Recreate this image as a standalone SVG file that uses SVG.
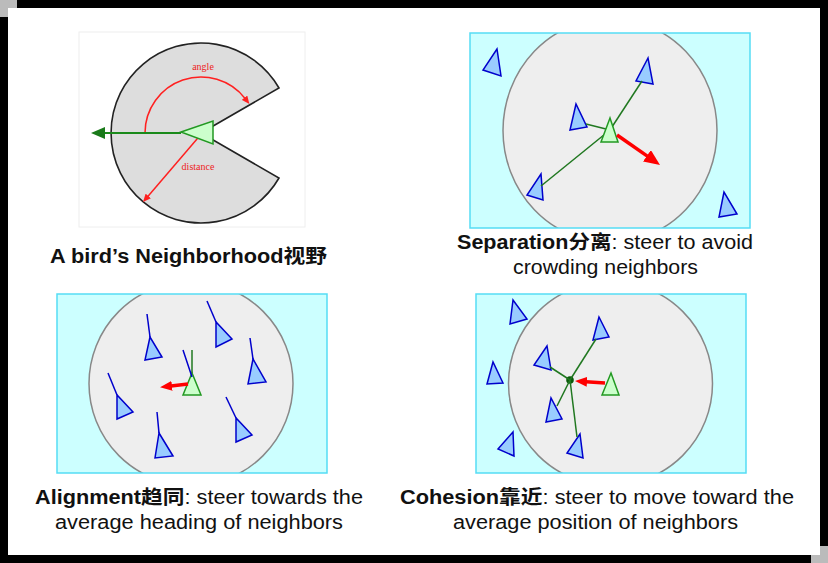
<svg xmlns="http://www.w3.org/2000/svg" width="828" height="563" viewBox="0 0 828 563">
<style>
.cap{font-family:"Liberation Sans","Noto Sans CJK SC",sans-serif;font-size:19.5px;fill:#111}
.b{font-weight:bold}
.lbl{font-family:"Liberation Serif",serif;font-size:10px;fill:#e22}
.box{fill:#ccffff}
.boxs{fill:none;stroke:#55ddf5;stroke-width:1.5}
.zone{fill:#eeeeee;stroke:#888;stroke-width:1.5}
.bb{fill:#99ccff;stroke:#0000cc;stroke-width:1.5;stroke-linejoin:miter}
.gb{fill:#ccffcc;stroke:#229922;stroke-width:1.5}
.gl{stroke:#207820;stroke-width:1.5;fill:none}
.hl{stroke:#0000cc;stroke-width:1.5;fill:none}
.ra{stroke:#ff0000;stroke-width:3.5;fill:none}
</style>
<defs>
<marker id="mRedS" markerUnits="userSpaceOnUse" markerWidth="8" markerHeight="7" refX="1" refY="3.5" orient="auto"><path d="M0,0 L8,3.5 L0,7 z" fill="#ff2020"/></marker>
<marker id="mGreen" markerUnits="userSpaceOnUse" markerWidth="14" markerHeight="12" refX="1" refY="6" orient="auto"><path d="M0,0 L14,6 L0,12 z" fill="#1a7a1a"/></marker>
<marker id="mRedB" markerUnits="userSpaceOnUse" markerWidth="16" markerHeight="14" refX="1" refY="7" orient="auto"><path d="M0,0 L16,7 L0,14 z" fill="#ff0000"/></marker>
<marker id="mRedM" markerUnits="userSpaceOnUse" markerWidth="12" markerHeight="10" refX="1" refY="5" orient="auto"><path d="M0,0 L12,5 L0,10 z" fill="#ff0000"/></marker>
<clipPath id="c2"><rect x="470" y="33" width="280" height="195"/></clipPath>
<clipPath id="c3"><rect x="57" y="294" width="270" height="179"/></clipPath>
<clipPath id="c4"><rect x="476" y="294" width="270" height="179"/></clipPath>
</defs>

<!-- frame -->
<rect x="0" y="0" width="828" height="563" fill="#000"/>
<rect x="0" y="0" width="17" height="17" fill="#bbbbbb"/>
<rect x="811" y="546" width="17" height="17" fill="#bbbbbb"/>
<rect x="8" y="8" width="812" height="547" fill="#fff"/>

<!-- Panel 1: neighborhood -->
<g id="neighborhood">
<rect x="79" y="32" width="226" height="195" fill="#fff" stroke="#eeeeee" stroke-width="1"/>
<path d="M201,133 L279,88 A90,90 0 1 0 279,178 Z" fill="#dddddd" stroke="#222" stroke-width="1.6" stroke-linejoin="miter"/>
<path d="M145,133 A56,56 0 0 1 245.1,98.5" fill="none" stroke="#ff2020" stroke-width="1.5" marker-end="url(#mRedS)"/>
<line x1="203" y1="132" x2="147.6" y2="196.7" stroke="#ff2020" stroke-width="1.5" marker-end="url(#mRedS)"/>
<line x1="181" y1="133" x2="104" y2="133" stroke="#1a8a1a" stroke-width="2" marker-end="url(#mGreen)"/>
<polygon points="181,132 213,121 213,144" class="gb"/>
<text x="203" y="70" class="lbl" text-anchor="middle">angle</text>
<text x="198" y="170" class="lbl" text-anchor="middle">distance</text>
</g>

<!-- Panel 2: separation -->
<g id="separation">
<rect x="470" y="33" width="280" height="195" class="box"/>
<ellipse cx="610" cy="130.5" rx="107" ry="112" class="zone" clip-path="url(#c2)"/>
<rect x="470" y="33" width="280" height="195" class="boxs"/>
<polygon points="497,49 483,70 501,76" class="bb"/>
<polygon points="648,58 636,81 653,84" class="bb"/>
<polygon points="576,104 570,130 587,127" class="bb"/>
<polygon points="541,174 527,195 543,200" class="bb"/>
<polygon points="724,192 719,217 737,214" class="bb"/>
</g>

<!-- Panel 3: alignment -->
<g id="alignment">
<rect x="57" y="294" width="270" height="179" class="box"/>
<circle cx="191" cy="383.5" r="102" class="zone" clip-path="url(#c3)"/>
<rect x="57" y="294" width="270" height="179" class="boxs"/>
<polygon points="150,337 145,360 162,357" class="bb"/>
<polygon points="216,322 216,347 232,339" class="bb"/>
<polygon points="253,359 248,384 266,382" class="bb"/>
<polygon points="117,395 117,419 133,412" class="bb"/>
<polygon points="159,433 155,458 173,456" class="bb"/>
<polygon points="236,418 236,442 252,435" class="bb"/>
<polygon points="192,373 183,395 201,395" class="gb"/>
</g>

<!-- Panel 4: cohesion -->
<g id="cohesion">
<rect x="476" y="294" width="270" height="179" class="box"/>
<circle cx="610.5" cy="383.5" r="102" class="zone" clip-path="url(#c4)"/>
<rect x="476" y="294" width="270" height="179" class="boxs"/>
<polygon points="513,300 510,324 527,319" class="bb"/>
<polygon points="493,362 487,384 503,383" class="bb"/>
<polygon points="513,432 498,449 514,456" class="bb"/>
<polygon points="599,317 593,340 609,337" class="bb"/>
<polygon points="547,346 534,365 551,370" class="bb"/>
<polygon points="551,398 546,422 562,419" class="bb"/>
<polygon points="580,434 567,453 583,458" class="bb"/>
<circle cx="570" cy="380" r="3.8" fill="#0a5a0a"/>
</g>

<!-- connectors -->
<g id="connectors">
<line x1="610" y1="130" x2="642" y2="81" class="gl"/>
<line x1="610" y1="130" x2="586" y2="124" class="gl"/>
<line x1="610" y1="130" x2="541" y2="186" class="gl"/>
<polygon points="610,118 601,142 618,142" class="gb"/>
<line x1="617" y1="135" x2="647.7" y2="156.4" class="ra" marker-end="url(#mRedB)"/>

<line x1="147" y1="314" x2="150" y2="337" class="hl"/>
<line x1="207" y1="301" x2="216" y2="322" class="hl"/>
<line x1="250" y1="338" x2="253" y2="359" class="hl"/>
<line x1="108" y1="373" x2="117" y2="395" class="hl"/>
<line x1="157" y1="412" x2="159" y2="433" class="hl"/>
<line x1="226" y1="397" x2="236" y2="418" class="hl"/>
<line x1="192" y1="350" x2="192" y2="373" class="gl"/>
<line x1="183" y1="350" x2="192" y2="377" class="hl"/>
<line x1="188" y1="384" x2="171" y2="386" class="ra" stroke-width="3" marker-end="url(#mRedM)"/>

<line x1="570" y1="380" x2="596" y2="339" class="gl"/>
<line x1="570" y1="380" x2="550" y2="367" class="gl"/>
<line x1="570" y1="380" x2="557" y2="406" class="gl"/>
<line x1="570" y1="380" x2="577" y2="437" class="gl"/>
<line x1="605" y1="383" x2="586" y2="381.7" class="ra" stroke-width="3" marker-end="url(#mRedM)"/>
</g>
<polygon points="611,373 602,395 619,395" class="gb"/>

<!-- captions -->
<text class="cap" x="50" y="263" textLength="277" lengthAdjust="spacingAndGlyphs"><tspan class="b">A bird’s Neighborhood视野</tspan></text>
<text class="cap" x="457" y="249" textLength="296" lengthAdjust="spacingAndGlyphs"><tspan class="b">Separation分离</tspan>: steer to avoid</text>
<text class="cap" x="513" y="274" textLength="185" lengthAdjust="spacingAndGlyphs">crowding neighbors</text>
<text class="cap" x="35" y="504" textLength="328" lengthAdjust="spacingAndGlyphs"><tspan class="b">Alignment趋同</tspan>: steer towards the</text>
<text class="cap" x="55" y="529" textLength="288" lengthAdjust="spacingAndGlyphs">average heading of neighbors</text>
<text class="cap" x="400" y="504" textLength="394" lengthAdjust="spacingAndGlyphs"><tspan class="b">Cohesion靠近</tspan>: steer to move toward the</text>
<text class="cap" x="453" y="529" textLength="285" lengthAdjust="spacingAndGlyphs">average position of neighbors</text>
</svg>
